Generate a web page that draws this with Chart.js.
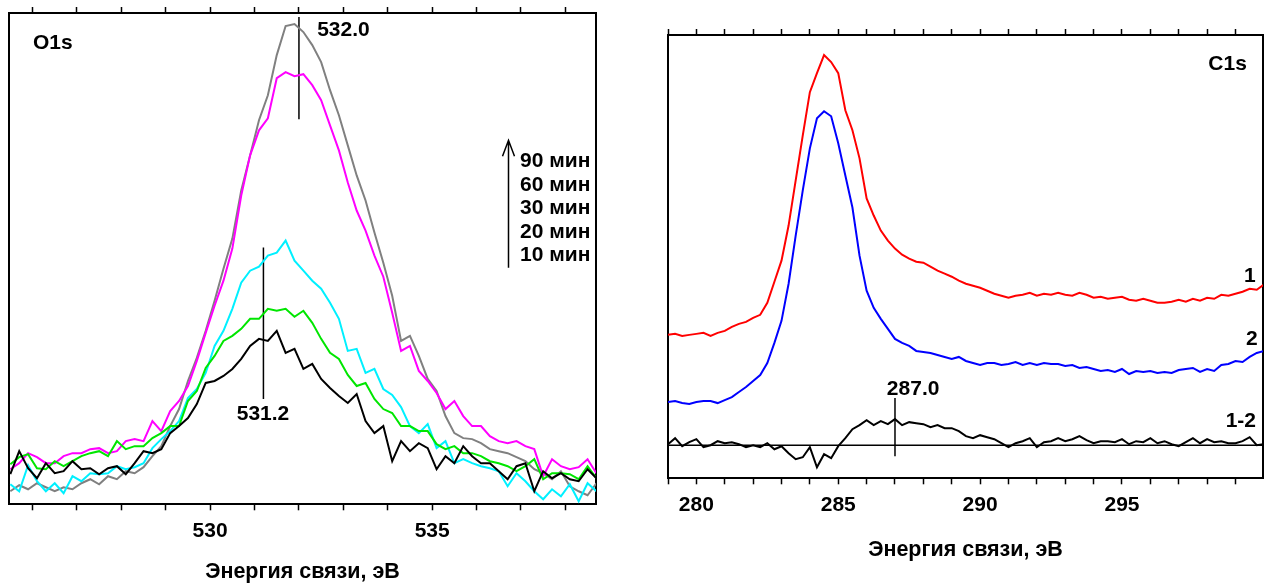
<!DOCTYPE html>
<html>
<head>
<meta charset="utf-8">
<script src="https://cdn.jsdelivr.net/npm/chart.js@4.4.0/dist/chart.umd.min.js"></script>
<style>
  body { margin: 0; background: #fff; width: 1267px; height: 583px; overflow: hidden; position: relative; }
  canvas { position: absolute; top: 0; }
</style>
</head>
<body>
<canvas id="o1s" width="610" height="583" style="left:0"></canvas>
<canvas id="c1s" width="627" height="583" style="left:640px"></canvas>
<script>
// O1s spectra, sampled every 0.2 eV from 525.5 eV
const o1sStart = 525.5, o1sStep = 0.2;
const o1s10 = [30,53,36,26,41,31,33,43,35,36, 30,36,38,30,41,53,51,55,71,78,
  86,100,121,123,128,135,145,158,165,163, 173,151,155,135,140,125,116,108,101,110,
  83,71,78,43,63,53,61,56,35,48, 41,58,48,41,41,33,25,38,41,13, 33,26,31,25,23,35,26];
const o1s20 = [40,47,50,36,35,43,38,43,48,51, 53,48,63,55,58,58,66,71,78,78,
  103,113,136,148,163,168,175,185,185,195, 193,195,187,193,181,165,151,145,129,118,
  121,105,95,91,78,78,73,73,60,55, 58,51,51,48,43,41,38,33,38,45, 25,31,31,30,25,38,26];
const o1s30 = [20,13,39,23,13,21,11,28,23,31, 30,31,38,35,37,41,56,65,73,83,
  106,115,131,158,173,195,221,233,237,248, 251,263,243,233,223,215,201,185,153,155,
  131,135,115,109,97,78,71,80,56,63, 41,45,41,38,36,33,18,31,23,13, 5,15,8,20,3,21,13];
const o1s60 = [35,41,51,47,41,41,48,51,51,55, 56,51,53,63,65,63,83,73,93,103,
  118,143,171,198,223,255,308,348,373,385, 425,431,427,429,418,403,378,353,321,293,
  273,248,227,191,153,158,133,123,111,95, 103,88,78,78,68,63,61,63,58,55, 28,45,38,35,37,45,31];
const o1s90 = [13,19,15,21,17,13,17,15,21,25, 20,28,25,33,31,37,48,58,78,95,
  123,146,173,203,235,265,313,348,383,408, 448,477,479,471,458,441,413,388,358,328,
  303,271,241,208,163,168,148,125,113,88, 71,66,65,61,55,53,51,47,43,35, 31,25,33,18,13,9,21];
const o1sTickLabels = [530, 535];
const o1sMarks = [[532.0, 384, 486], [531.2, 105, 256]];
const o1sLegend = ['90 мин', '60 мин', '30 мин', '20 мин', '10 мин'];

// C1s spectra, sampled every 0.25 eV from 279 eV
const c1sStart = 279.0, c1sStep = 0.25;
const c1s1 = [143,144,142,143,144,145,142,145,147,151, 154,156,160,163,175,196,217,252,297,342,
  385,404,422,415,404,367,347,319,279,262, 247,237,229,223,219,216,215,211,207,204,
  201,197,194,192,190,187,184,182,180,182, 183,185,182,184,183,185,183,182,185,183,
  180,181,179,180,181,178,177,179,177,175, 175,176,178,176,179,177,180,179,183,182,
  184,186,189,188,193];
const c1s2 = [76,77,75,74,76,77,77,75,78,81, 86,91,97,103,115,135,157,194,242,287,
  329,359,366,361,334,302,270,222,187,170, 159,149,139,135,132,127,126,125,123,121,
  119,121,117,115,113,115,115,113,114,116, 113,115,113,115,114,114,112,113,110,111,
  109,107,108,106,109,104,107,106,107,105, 106,105,108,109,110,106,109,107,113,114,
  117,116,121,125,127];
const c1sDiff = [34,40,32,36,39,31,33,37,35,36, 34,31,33,31,35,29,32,25,19,21,
  31,11,24,20,32,40,49,53,58,53, 57,54,59,53,56,55,54,51,53,50,
  50,47,42,40,43,41,39,35,31,35, 37,40,31,36,37,40,37,39,42,38,
  35,37,37,36,39,34,37,36,40,35, 37,34,32,36,40,35,39,36,37,35,
  35,37,41,33,34];
const c1sZero = 33;
const c1sTickLabels = [280, 285, 290, 295];
const c1sMark = [287.0, 22, 80];

const FONT = '"Liberation Sans", Arial, sans-serif';

function toPoints(start, step, vals) {
  return vals.map((v, i) => ({ x: +(start + i * step).toFixed(2), y: v }));
}

function curve(data, color, width) {
  return { data, borderColor: color, borderWidth: width || 2, pointRadius: 0, fill: false, tension: 0 };
}

function markLine(m) {
  return curve([{ x: m[0], y: m[1] }, { x: m[0], y: m[2] }], '#000', 1.5);
}

// text and the arrow drawn at data coordinates
const notesPlugin = {
  id: 'notes',
  afterDatasetsDraw(chart, args, opts) {
    const { ctx, scales: { x, y } } = chart;
    ctx.save();
    ctx.fillStyle = '#000';
    ctx.font = 'bold 21px ' + FONT;
    ctx.textBaseline = 'middle';
    (opts.items || []).forEach(n => {
      ctx.textAlign = n.align || 'left';
      ctx.fillText(n.text, x.getPixelForValue(n.x), y.getPixelForValue(n.y));
    });
    if (opts.arrow) {
      const a = opts.arrow;
      const px = Math.round(x.getPixelForValue(a.x)) + 0.5;
      const top = y.getPixelForValue(a.to), bot = y.getPixelForValue(a.from);
      ctx.strokeStyle = '#000';
      ctx.lineWidth = 1.5;
      ctx.beginPath();
      ctx.moveTo(px, bot); ctx.lineTo(px, top);
      ctx.moveTo(px - 6, top + 16); ctx.lineTo(px, top); ctx.lineTo(px + 6, top + 16);
      ctx.stroke();
    }
    ctx.restore();
  }
};

function scalesFor(xmin, xmax, ymax, labels, titlePad) {
  const tickFont = { family: FONT, size: 21, weight: 'bold' };
  const xBase = {
    type: 'linear', min: xmin, max: xmax,
    grid: { drawOnChartArea: false, drawTicks: true, tickLength: 6, tickWidth: 1.5, tickColor: '#000' },
    border: { display: true, color: '#000', width: 2 }
  };
  const yBase = {
    min: 0, max: ymax,
    grid: { display: false, drawTicks: false },
    ticks: { display: false },
    border: { display: true, color: '#000', width: 2 }
  };
  return {
    x: Object.assign({}, xBase, {
      position: 'bottom',
      ticks: {
        stepSize: 1, autoSkip: false, includeBounds: false, maxRotation: 0, minRotation: 0,
        padding: 8, color: '#000', font: tickFont,
        callback: v => labels.some(l => Math.abs(l - v) < 1e-6) ? String(v) : ''
      },
      title: {
        display: true, text: 'Энергия связи, эВ', color: '#000',
        font: { family: FONT, size: 21.5, weight: 'bold', lineHeight: 1 },
        padding: { top: titlePad, bottom: 0 }
      }
    }),
    xt: Object.assign({}, xBase, {
      position: 'top',
      ticks: { display: false, stepSize: 1, autoSkip: false, includeBounds: false }
    }),
    y: Object.assign({}, yBase, { position: 'left' }),
    yr: Object.assign({}, yBase, { position: 'right' })
  };
}

new Chart(document.getElementById('o1s'), {
  type: 'line',
  data: {
    datasets: [
      curve(toPoints(o1sStart, o1sStep, o1s10), '#000000'),
      curve(toPoints(o1sStart, o1sStep, o1s20), '#00e600'),
      curve(toPoints(o1sStart, o1sStep, o1s30), '#00f0ff'),
      curve(toPoints(o1sStart, o1sStep, o1s60), '#ff00ff'),
      curve(toPoints(o1sStart, o1sStep, o1s90), '#808080'),
      ...o1sMarks.map(markLine)
    ]
  },
  options: {
    responsive: false,
    animation: false,
    layout: { padding: { left: 9, right: 14, top: 7, bottom: 0 } },
    scales: scalesFor(525.47, 538.69, 490, o1sTickLabels, 10),
    plugins: {
      legend: { display: false },
      tooltip: { enabled: false },
      notes: {
        items: [
          { text: 'O1s', x: 526.01, y: 460 },
          { text: '532.0', x: 532.41, y: 473 },
          { text: '531.2', x: 531.19, y: 90, align: 'center' },
          ...o1sLegend.map((t, i) => ({ text: t, x: 536.98, y: 342 - i * 23.4 }))
        ],
        arrow: { x: 536.71, from: 236, to: 363 }
      }
    }
  },
  plugins: [notesPlugin]
});

new Chart(document.getElementById('c1s'), {
  type: 'line',
  data: {
    datasets: [
      curve(toPoints(c1sStart, c1sStep, c1sDiff), '#000000'),
      curve(toPoints(c1sStart, c1sStep, c1s2), '#0000ff'),
      curve(toPoints(c1sStart, c1sStep, c1s1), '#ff0000'),
      curve([{ x: 279, y: c1sZero }, { x: 300, y: c1sZero }], '#000', 1.5),
      markLine(c1sMark)
    ]
  },
  options: {
    responsive: false,
    animation: false,
    layout: { padding: { left: 28, right: 4, top: 29, bottom: 22 } },
    scales: scalesFor(279.0, 299.97, 442, c1sTickLabels, 14),
    plugins: {
      legend: { display: false },
      tooltip: { enabled: false },
      notes: {
        items: [
          { text: 'C1s', x: 299.40, y: 413, align: 'right' },
          { text: '1', x: 299.51, y: 202, align: 'center' },
          { text: '2', x: 299.58, y: 139, align: 'center' },
          { text: '1-2', x: 299.19, y: 57, align: 'center' },
          { text: '287.0', x: 287.64, y: 89, align: 'center' }
        ]
      }
    }
  },
  plugins: [notesPlugin]
});
</script>
</body>
</html>
